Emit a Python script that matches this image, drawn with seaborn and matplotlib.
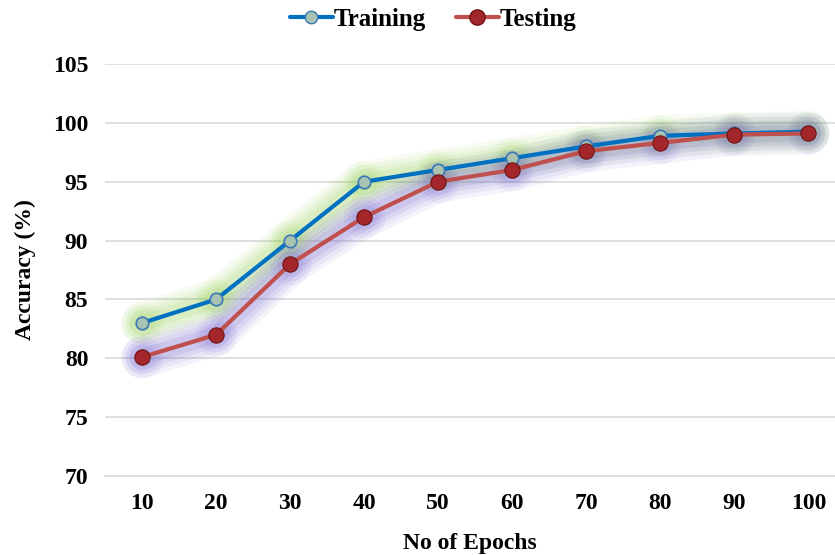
import matplotlib
matplotlib.use("Agg")
import matplotlib.pyplot as plt
from matplotlib.lines import Line2D
import seaborn as sns
import pandas as pd

epochs = [10, 20, 30, 40, 50, 60, 70, 80, 90, 100]
training = [83.0, 85.0, 90.0, 95.0, 96.0, 97.0, 98.0, 98.9, 99.1, 99.25]
testing = [80.1, 82.0, 88.0, 92.0, 95.0, 96.0, 97.6, 98.3, 99.0, 99.1]
y_ticks = [70, 75, 80, 85, 90, 95, 100, 105]

df = pd.DataFrame({"epochs": epochs, "Training": training, "Testing": testing})

sns.set_theme(style="white")
plt.rcParams["font.family"] = ["Liberation Serif", "DejaVu Serif"]
plt.rcParams["font.weight"] = "bold"
plt.rcParams["text.color"] = "black"
plt.rcParams["axes.labelcolor"] = "black"
plt.rcParams["xtick.color"] = "black"
plt.rcParams["ytick.color"] = "black"

fig = plt.figure(figsize=(8.35, 5.55), dpi=100)
ax = fig.add_axes([105 / 835, 79 / 555, 730 / 835, 412 / 555])

blue = "#0070c0"
red = "#c0504d"
green_glow = "#92d050"
purple_glow = "#7060d0"

# soft glow under each series: stacked wide translucent strokes
for col, gcol in (("Training", green_glow), ("Testing", purple_glow)):
    for lw, a in ((30, 0.07), (24, 0.09), (18, 0.11), (12, 0.13)):
        sns.lineplot(data=df, x="epochs", y=col, ax=ax, color=gcol, lw=lw,
                     alpha=a, solid_capstyle="round", solid_joinstyle="round",
                     legend=False, zorder=1)
    for s, a in ((900, 0.07), (600, 0.08), (350, 0.10)):
        sns.scatterplot(data=df, x="epochs", y=col, ax=ax, color=gcol, s=s,
                        alpha=a, linewidth=0, legend=False, zorder=1)

sns.lineplot(data=df, x="epochs", y="Training", ax=ax, color=blue, lw=3,
             marker="o", markersize=9, markerfacecolor="#a8c4b0",
             markeredgecolor="#3a78b8", markeredgewidth=1.2, zorder=4,
             legend=False)
sns.lineplot(data=df, x="epochs", y="Testing", ax=ax, color=red, lw=3,
             marker="o", markersize=11, markerfacecolor="#a3262b",
             markeredgecolor="#6e1518", markeredgewidth=0.8, zorder=5,
             legend=False)

ax.set_xlim(5, 103.6)
ax.set_ylim(70, 105)
ax.set_xticks(epochs)
ax.set_yticks(y_ticks)
ax.yaxis.grid(True, color="#d9d9d9", lw=1.2)
ax.xaxis.grid(False)
for s in ("top", "right", "left"):
    ax.spines[s].set_visible(False)
ax.spines["bottom"].set_color("#d9d9d9")
ax.spines["bottom"].set_linewidth(1.2)
ax.tick_params(axis="both", length=0, labelsize=17, pad=12)
for lab in ax.get_xticklabels() + ax.get_yticklabels():
    lab.set_fontweight("bold")
ax.set_xlabel("No of Epochs", fontsize=17, fontweight="bold", labelpad=14)
ax.set_ylabel("Accuracy (%)", fontsize=17, fontweight="bold", labelpad=12)

handles = [
    Line2D([], [], color=blue, lw=3, marker="o", markersize=9,
           markerfacecolor="#a8c4b0", markeredgecolor="#3a78b8"),
    Line2D([], [], color=red, lw=3, marker="o", markersize=11,
           markerfacecolor="#a3262b", markeredgecolor="#6e1518"),
]
fig.legend(handles, ["Training", "Testing"], loc="center",
           bbox_to_anchor=(0.519, 0.965), ncol=2, frameon=False,
           prop={"size": 18, "weight": "bold"}, handlelength=1.7,
           handletextpad=0.05, columnspacing=1.2)

fig.savefig("out.png", dpi=100)
